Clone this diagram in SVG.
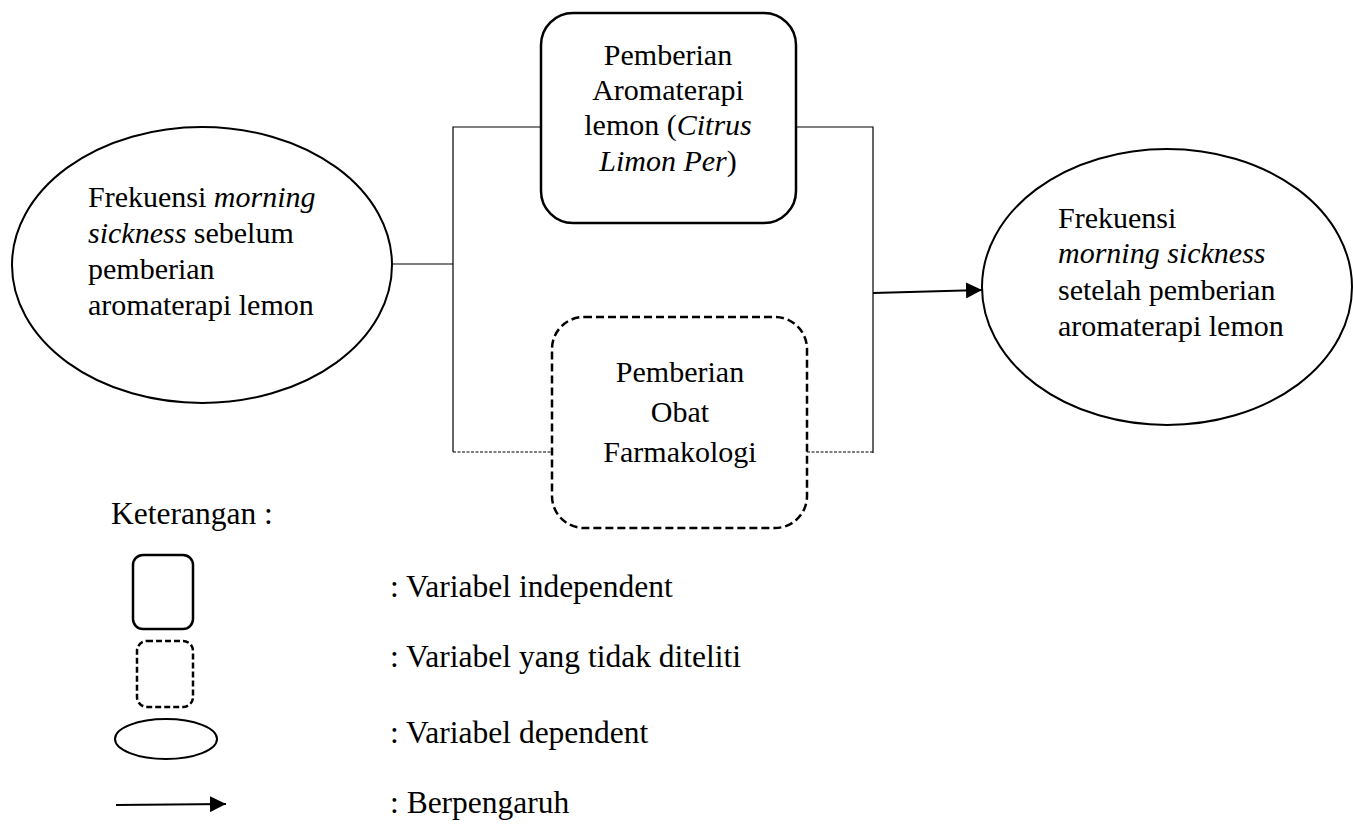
<svg xmlns="http://www.w3.org/2000/svg" width="1353" height="826" viewBox="0 0 1353 826">
<style>
text{font-family:"Liberation Serif","Times New Roman",serif;font-size:30px;fill:#000}
.c{text-anchor:middle}
.it{font-style:italic}
.lg{font-size:31.5px}
.solid{fill:#fff;stroke:#000;stroke-width:2.5}
.dash{fill:#fff;stroke:#000;stroke-width:2.5;stroke-dasharray:8 4}
.ell{fill:#fff;stroke:#000;stroke-width:2}
.ln{fill:none;stroke:#000;stroke-width:1.2}
.dot{fill:none;stroke:#000;stroke-width:1.2;stroke-dasharray:3 1.5}
.arr{fill:none;stroke:#000;stroke-width:2.2}
</style>
<defs>
<marker id="ah" markerWidth="16" markerHeight="16" refX="16" refY="8" orient="auto" markerUnits="userSpaceOnUse" viewBox="0 0 16 16">
<path d="M0,0 L16,8 L0,16 Z" fill="#000"/>
</marker>
</defs>
<rect width="1353" height="826" fill="#fff"/>
<g id="connectors">
<line class="ln" x1="383" y1="264" x2="453" y2="264"/>
<polyline class="ln" points="541,127 453,127 453,452"/>
<polyline class="ln" points="796,127 873,127 873,453"/>
<line class="dot" x1="453" y1="452" x2="552" y2="452"/>
<line class="dot" x1="807" y1="452" x2="873" y2="452"/>
<line class="arr" x1="873" y1="293" x2="982" y2="290" marker-end="url(#ah)"/>
</g>
<g id="node-left">
<ellipse class="ell" cx="202" cy="265" rx="190" ry="138"/>
<text x="88" y="207">Frekuensi <tspan class="it">morning</tspan></text>
<text x="88" y="243"><tspan class="it">sickness</tspan> sebelum</text>
<text x="88" y="279">pemberian</text>
<text x="88" y="315">aromaterapi lemon</text>
</g>
<g id="node-top">
<rect class="solid" x="541" y="13" width="255" height="210" rx="32"/>
<text class="c" x="668" y="65">Pemberian</text>
<text class="c" x="668" y="100">Aromaterapi</text>
<text class="c" x="668" y="135">lemon (<tspan class="it">Citrus</tspan></text>
<text class="c" x="668" y="171"><tspan class="it">Limon Per</tspan>)</text>
</g>
<g id="node-bottom">
<rect class="dash" x="552" y="317" width="255" height="211" rx="32"/>
<text class="c" x="680" y="382">Pemberian</text>
<text class="c" x="680" y="422">Obat</text>
<text class="c" x="680" y="462">Farmakologi</text>
</g>
<g id="node-right">
<ellipse class="ell" cx="1167" cy="287" rx="185" ry="138"/>
<text x="1058" y="228">Frekuensi</text>
<text x="1058" y="263" class="it">morning sickness</text>
<text x="1058" y="300">setelah pemberian</text>
<text x="1058" y="336">aromaterapi lemon</text>
</g>
<g id="legend">
<text class="lg" x="111" y="524">Keterangan :</text>
<rect class="solid" x="133" y="555" width="60" height="74" rx="10"/>
<text class="lg" x="390" y="597">: Variabel independent</text>
<rect class="dash" x="137" y="641" width="56" height="66" rx="10" style="stroke-dasharray:6 3"/>
<text class="lg" x="390" y="667">: Variabel yang tidak diteliti</text>
<ellipse class="ell" cx="166" cy="739" rx="51" ry="20"/>
<text class="lg" x="390" y="743">: Variabel dependent</text>
<line class="arr" x1="116" y1="805" x2="226" y2="804" marker-end="url(#ah)"/>
<text class="lg" x="390" y="813">: Berpengaruh</text>
</g>
</svg>
